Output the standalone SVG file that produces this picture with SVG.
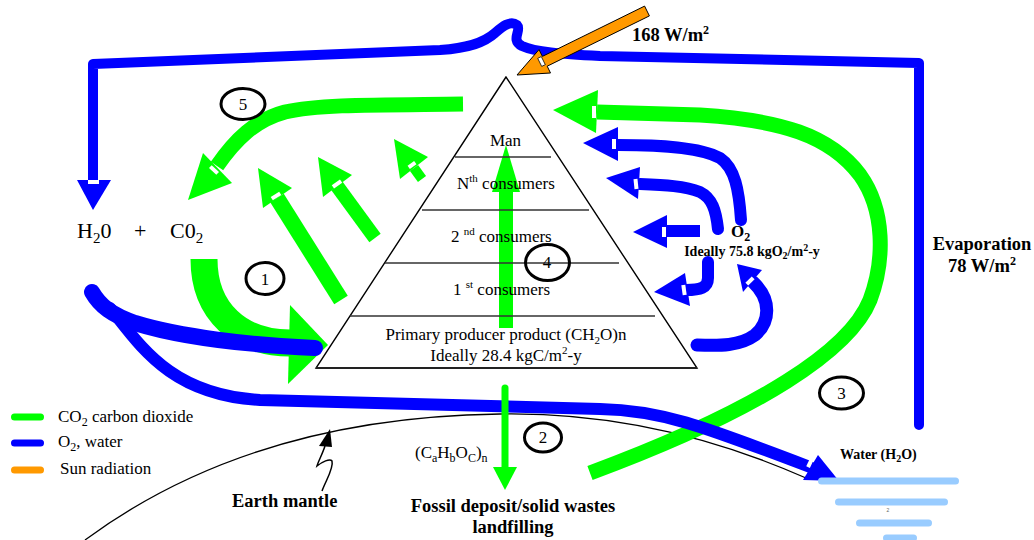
<svg xmlns="http://www.w3.org/2000/svg" width="1034" height="540" viewBox="0 0 1034 540">
<style>
.g{fill:none;stroke:#00FF00}
.gf{fill:#00FF00}
.b{fill:none;stroke:#0000FF;stroke-linecap:round;stroke-linejoin:round}
.bf{fill:#0000FF}
.n{fill:#FFFFFF}
.t{font-family:"Liberation Serif","Times New Roman",serif;fill:#000}
.tb{font-family:"Liberation Serif","Times New Roman",serif;font-weight:bold;fill:#000}
.c{fill:none;stroke:#000;stroke-width:3}
.pl{stroke:#333;stroke-width:1.6}
.w{stroke:#99CCFF;stroke-width:7;stroke-linecap:round}
.lg{stroke-width:7;stroke-linecap:round}
</style>
<rect width="1034" height="540" fill="#FFFFFF"/>

<g id="earth-mantle">
  <path d="M85,540 C200,455 340,416 500,414 C620,412 720,440 806,478" fill="none" stroke="#000" stroke-width="1.3"/>
  <path d="M325,446 C322,455 318,462 317,466 C322,462 330,458 332,461 C334,468 326,480 322,491" fill="none" stroke="#000" stroke-width="1.5"/>
  <polygon points="330,429 319,446 332,447" fill="#000"/>
  <text class="tb" font-size="18.5" x="232" y="507">Earth mantle</text>
</g>

<g id="connectors">
  <!-- green 3 (from fossil to top of pyramid) -->
  <path class="g" stroke-width="15" d="M590,473 C760,410 850,350 870,300 C885,260 885,210 860,175 C830,135 780,120 700,115 L597,112"/>
  <polygon class="gf" points="553,110 598,90 596,133"/>
  <rect class="n" x="592" y="106" width="4" height="12"/>

  <!-- green 5 -->
  <path class="g" stroke-width="15" d="M463,104 C380,105 320,104 285,112 C255,120 235,140 217,166"/>
  <polygon class="gf" points="188,200 203,153 232,183"/>
  <rect class="n" x="-2" y="-5" width="4" height="10" transform="translate(214,170) rotate(-47)"/>

  <!-- green diagonal arrows -->
  <line class="g" stroke-width="16" x1="341" y1="300" x2="277" y2="198"/>
  <polygon class="gf" points="258,168 263,208 292,188"/>
  <rect class="n" x="-2" y="-5" width="4" height="10" transform="translate(276,196) rotate(57.9)"/>

  <line class="g" stroke-width="14" x1="375" y1="238" x2="337" y2="186"/>
  <polygon class="gf" points="318,157 323,197 352,175"/>
  <rect class="n" x="-2" y="-5" width="4" height="10" transform="translate(337,184) rotate(54.9)"/>

  <line class="g" stroke-width="10" x1="422" y1="179" x2="414" y2="168"/>
  <polygon class="gf" points="394,139 400,179 428,157"/>
  <rect class="n" x="-2" y="-4" width="4" height="8" transform="translate(412,165) rotate(55)"/>

  <!-- green 1 -->
  <path class="g" stroke-width="27" d="M204,259 C204,312 240,343 290,343"/>
  <polygon class="gf" points="290,305 328,345 288,384"/>

  <!-- green 4 inside pyramid -->
  <rect class="gf" x="499" y="190" width="14" height="138"/>
  <polygon class="gf" points="506,145 492,192 520,192"/>

  <!-- blue top loop / evaporation -->
  <path class="b" stroke-width="10" d="M93,180 L93,64 L440,50 C470,48 485,42 495,33 C502,27 510,20 517,25 C522,30 510,40 522,46 C535,52 560,54 600,56 L919,63 L919,425"/>
  <polygon class="bf" points="77,180 111,180 93,210"/>
  <rect class="n" x="88" y="180" width="11" height="4"/>

  <!-- blue A (to primary producer) -->
  <path class="b" stroke-width="16" d="M92,292 C100,306 112,315 135,323 C180,337 250,345 315,348"/>

  <!-- blue B (to water) -->
  <path class="b" stroke-width="12" stroke-linecap="butt" d="M110,308 C140,345 170,395 260,400 L600,409 C660,410 700,425 810,467"/>
  <polygon class="bf" points="818,455 839,481 803,480"/>
  <rect class="n" x="-2" y="-4.5" width="4" height="9" transform="translate(810,463) rotate(25.5)"/>

  <!-- green 2 down to fossil -->
  <line stroke="#00FF00" stroke-width="7" stroke-linecap="round" x1="505" y1="388" x2="505" y2="468"/>
  <polygon class="gf" points="493,467 517,467 505,490"/>

  <!-- blue O2 arrows -->
  <path class="b" stroke-width="12" stroke-linecap="butt" d="M741,220 C739,190 735,168 720,158 C700,147 660,145 618,145"/>
  <polygon class="bf" points="583,143 618,127 618,161"/>
  <rect class="n" x="612" y="139" width="4" height="10"/>

  <path class="b" stroke-width="12" stroke-linecap="butt" d="M718,229 C716,210 712,198 700,192 C685,186 665,185 640,184"/>
  <polygon class="bf" points="606,178 640,167 638,199"/>
  <rect class="n" x="-2" y="-5" width="4" height="10" transform="translate(636,184) rotate(-6)"/>

  <line stroke="#0000FF" stroke-width="12" x1="700" y1="231" x2="666" y2="231"/>
  <polygon class="bf" points="633,232 667,215 667,248"/>
  <rect class="n" x="662" y="227" width="4" height="10"/>

  <path class="b" stroke-width="12" stroke-linecap="butt" d="M708,262 L708,278 C708,288 700,290 686,290"/>
  <polygon class="bf" points="654,292 685,273 690,306"/>
  <rect class="n" x="-2" y="-5" width="4" height="10" transform="translate(684,290) rotate(-8)"/>

  <path class="b" stroke-width="13" stroke-linecap="butt" d="M697,345 C720,346 740,346 755,335 C770,322 772,300 753,282"/>
  <polygon class="bf" points="737,264 762,270 743,292"/>
  <rect class="n" x="-2" y="-4.5" width="4" height="9" transform="translate(750,281) rotate(45)"/>

  <!-- sun radiation -->
  <polygon points="644.6,6.1 542.4,56.4 539,49.6 517,75 550.5,73 547.2,66.2 649.4,15.9" fill="#FF9900" stroke="#000" stroke-width="1"/>
  <rect x="-2" y="-4.5" width="4" height="9" fill="#FFFFFF" stroke="#000" stroke-width="0.7" transform="translate(541.5,61.5) rotate(-26.2)"/>
</g>

<g id="pyramid">
  <polygon points="506,77 316,368 697,368" fill="none" stroke="#000" stroke-width="1.4"/>
  <line class="pl" x1="455" y1="157" x2="551" y2="157"/>
  <line class="pl" x1="422" y1="210" x2="589" y2="210"/>
  <line class="pl" x1="385" y1="263" x2="619" y2="263"/>
  <line class="pl" x1="350" y1="316" x2="655" y2="316"/>
  <line x1="316" y1="368" x2="697" y2="368" stroke="#222" stroke-width="2"/>
  <text class="t" font-size="17" x="505.5" y="146" text-anchor="middle">Man</text>
  <text class="t" font-size="17" x="457" y="189">N<tspan font-size="11" dy="-7">th</tspan><tspan dy="7"> consumers</tspan></text>
  <text class="t" font-size="17" x="451" y="242">2 <tspan font-size="11" dy="-7">nd</tspan><tspan dy="7"> consumers</tspan></text>
  <text class="t" font-size="17" x="453" y="295">1 <tspan font-size="11" dy="-7">st</tspan><tspan dy="7"> consumers</tspan></text>
  <text class="t" font-size="17" x="506" y="340" text-anchor="middle">Primary producer product (CH<tspan font-size="11" dy="4">2</tspan><tspan dy="-4">O)n</tspan></text>
  <text class="t" font-size="17" x="506" y="361" text-anchor="middle">Ideally 28.4 kgC/m<tspan font-size="11" dy="-7">2</tspan><tspan dy="7">-y</tspan></text>
</g>

<g id="h2o-co2">
  <text class="t" font-size="22" x="77" y="238">H<tspan font-size="15" dy="5">2</tspan><tspan dy="-5">0</tspan></text>
  <text class="t" font-size="22" x="134" y="238">+</text>
  <text class="t" font-size="22" x="170" y="238">C0<tspan font-size="15" dy="5">2</tspan></text>
</g>

<g id="o2">
  <text class="tb" font-size="17" x="731" y="237">O<tspan font-size="12" dy="4">2</tspan></text>
  <text class="tb" font-size="14" x="752" y="256" text-anchor="middle">Ideally 75.8 kgO<tspan font-size="10" dy="3">2</tspan><tspan dy="-3">/m</tspan><tspan font-size="10" dy="-5">2</tspan><tspan dy="5">-y</tspan></text>
</g>

<g id="sun-label">
  <text class="tb" font-size="18.5" x="632" y="41">168 W/m<tspan font-size="12" dy="-7">2</tspan></text>
</g>

<g id="evaporation">
  <text class="tb" font-size="18.5" x="982" y="250" text-anchor="middle">Evaporation</text>
  <text class="tb" font-size="18.5" x="982" y="272" text-anchor="middle">78 W/m<tspan font-size="12" dy="-7">2</tspan></text>
</g>

<g id="water">
  <text class="tb" font-size="14" x="840" y="459">Water (H<tspan font-size="10" dy="3">2</tspan><tspan dy="-3">O)</tspan></text>
  <line class="w" x1="821.5" y1="481" x2="955.5" y2="481"/>
  <line class="w" x1="838.5" y1="502" x2="944.5" y2="502"/>
  <text x="888" y="512" font-family="Liberation Sans, sans-serif" font-size="5" fill="#666" text-anchor="middle">2</text>
  <line class="w" x1="859.5" y1="523" x2="928.5" y2="523"/>
  <line class="w" x1="886.5" y1="538" x2="913.5" y2="538"/>
</g>

<g id="fossil">
  <text class="t" font-size="17" x="415" y="458">(C<tspan font-size="12" dy="4">a</tspan><tspan dy="-4">H</tspan><tspan font-size="12" dy="4">b</tspan><tspan dy="-4">O</tspan><tspan font-size="12" dy="4">C</tspan><tspan dy="-4">)</tspan><tspan font-size="12" dy="4">n</tspan></text>
  <text class="tb" font-size="18.5" x="513" y="512" text-anchor="middle">Fossil deposit/solid wastes</text>
  <text class="tb" font-size="18.5" x="513" y="533" text-anchor="middle">landfilling</text>
</g>

<g id="step-1"><ellipse class="c" cx="265" cy="278.5" rx="19" ry="16"/><text class="t" font-size="17" x="265" y="285" text-anchor="middle">1</text></g>
<g id="step-2"><ellipse class="c" cx="543" cy="437.5" rx="18.5" ry="14.5"/><text class="t" font-size="17" x="543" y="443" text-anchor="middle">2</text></g>
<g id="step-3"><ellipse class="c" cx="841.5" cy="393" rx="22" ry="16"/><text class="t" font-size="17" x="841.5" y="399" text-anchor="middle">3</text></g>
<g id="step-4"><ellipse class="c" cx="547.5" cy="262.5" rx="22" ry="18"/><text class="t" font-size="17" x="547" y="268" text-anchor="middle">4</text></g>
<g id="step-5"><ellipse class="c" cx="243" cy="104" rx="22" ry="15.5"/><text class="t" font-size="17" x="243" y="110" text-anchor="middle">5</text></g>

<g id="legend">
  <line class="lg" x1="14.5" y1="417" x2="40.5" y2="417" stroke="#00FF00"/>
  <line class="lg" x1="14.5" y1="443" x2="40.5" y2="443" stroke="#0000FF"/>
  <line class="lg" x1="14.5" y1="470" x2="40.5" y2="470" stroke="#FF9900"/>
  <text class="t" font-size="17" x="58" y="422">CO<tspan font-size="12" dy="4">2</tspan><tspan dy="-4"> carbon dioxide</tspan></text>
  <text class="t" font-size="17" x="58" y="447">O<tspan font-size="12" dy="4">2</tspan><tspan dy="-4">, water</tspan></text>
  <text class="t" font-size="17" x="60" y="474">Sun radiation</text>
</g>
</svg>
